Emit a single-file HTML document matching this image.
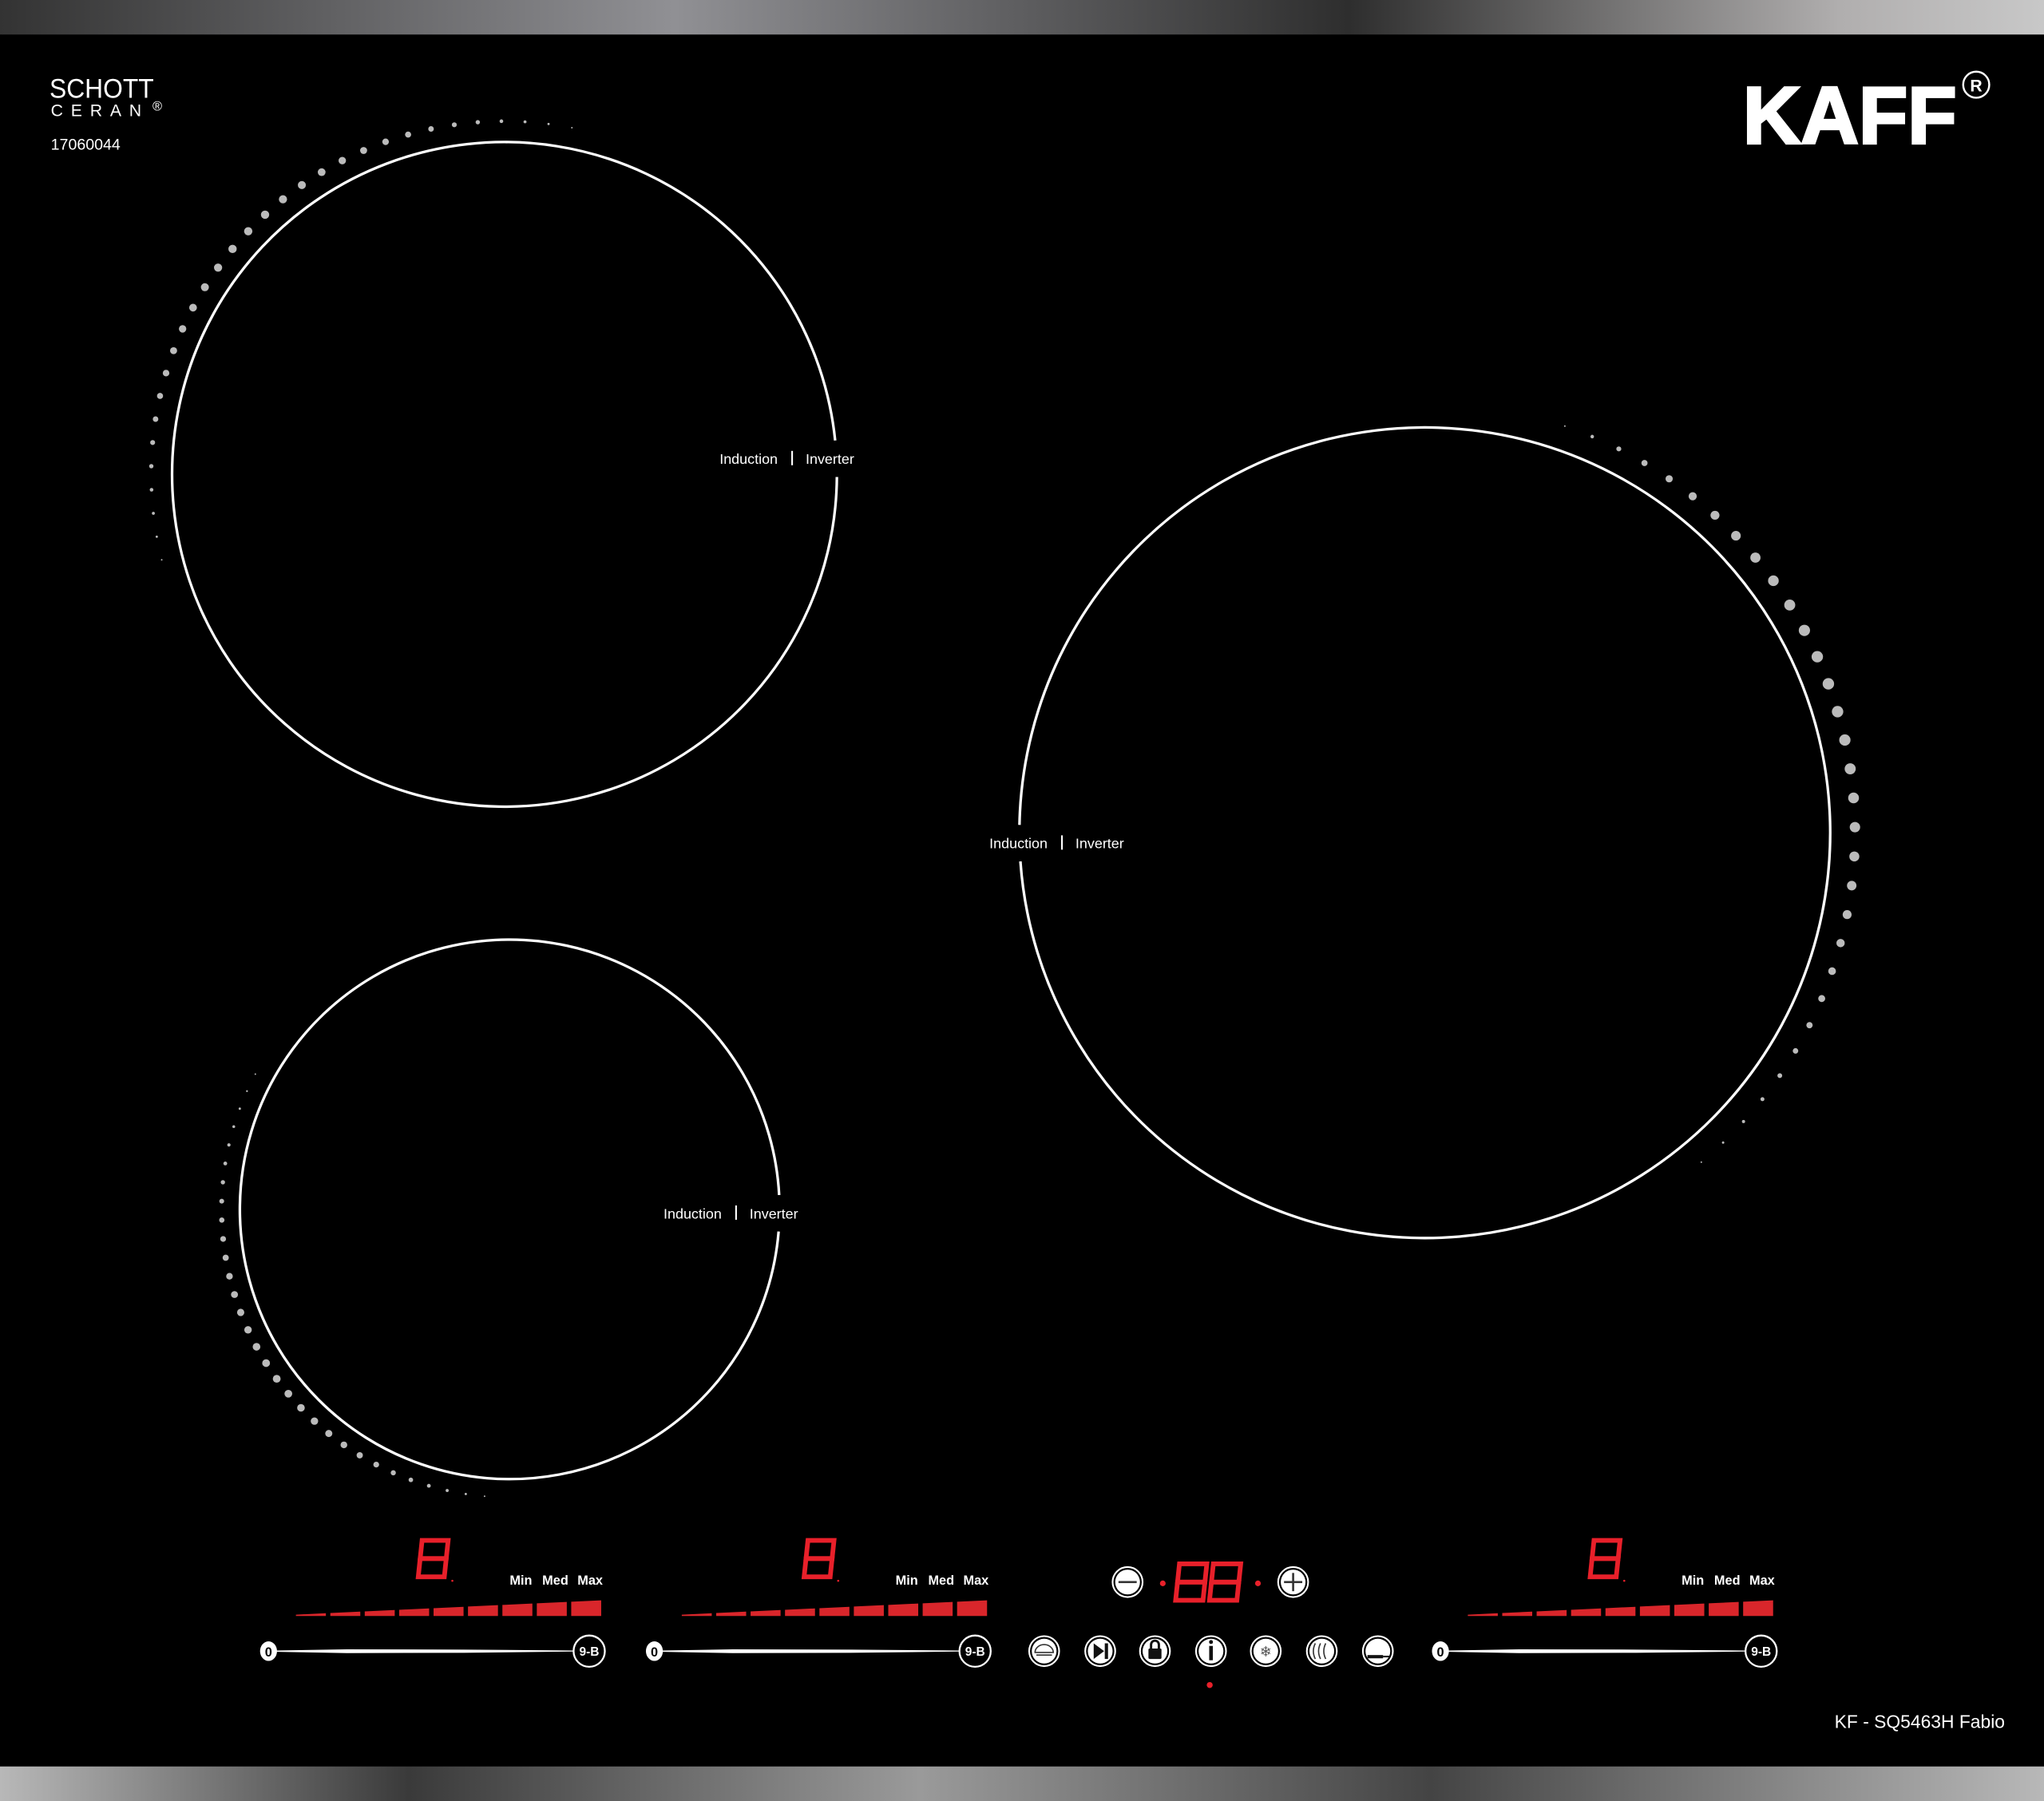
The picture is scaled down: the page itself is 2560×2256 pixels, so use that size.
<!DOCTYPE html>
<html><head><meta charset="utf-8"><style>
html,body{margin:0;padding:0;background:#000;}
svg{display:block;}
text{font-family:"Liberation Sans",sans-serif;}
</style></head><body>
<svg id="s" width="2560" height="2256" viewBox="0 0 1568 1382" preserveAspectRatio="none" xmlns="http://www.w3.org/2000/svg">
<defs>
<linearGradient id="gt" x1="0" x2="1" y1="0" y2="0">
<stop offset="0" stop-color="#333"/><stop offset="0.33" stop-color="#909094"/><stop offset="0.66" stop-color="#2e2e2e"/><stop offset="0.9" stop-color="#b0aeae"/><stop offset="1" stop-color="#c8c8c8"/>
</linearGradient>
<linearGradient id="gb" x1="0" x2="1" y1="0" y2="0">
<stop offset="0" stop-color="#b8b8b8"/><stop offset="0.2" stop-color="#3a3a3a"/><stop offset="0.45" stop-color="#9a9a9a"/><stop offset="0.7" stop-color="#444"/><stop offset="1" stop-color="#b8b8b8"/>
</linearGradient>
</defs>
<rect x="0" y="0" width="1568" height="1382" fill="#000"/>
<rect x="0" y="0" width="1568" height="26.5" fill="url(#gt)"/>
<rect x="0" y="1355.5" width="1568" height="26.5" fill="url(#gb)"/>

<text x="38" y="75" fill="#fff" font-size="21" textLength="80" lengthAdjust="spacingAndGlyphs">SCHOTT</text>
<text x="39" y="89" fill="#fff" font-size="13" letter-spacing="6">CERAN</text>
<text x="117" y="85" fill="#fff" font-size="10">®</text>
<text x="39" y="115" fill="#fff" font-size="12">17060044</text>
<text x="1337" y="110" fill="#fff" stroke="#fff" stroke-width="2" font-size="62" font-weight="bold" textLength="164" lengthAdjust="spacingAndGlyphs">KAFF</text>
<circle cx="1516" cy="65" r="10" fill="none" stroke="#fff" stroke-width="1.5"/>
<text x="1516" y="70" fill="#fff" font-size="13" font-weight="bold" text-anchor="middle">R</text>

<g id="zones" fill="none" stroke="#fff" stroke-width="2"></g>
<g id="dots" fill="#bbb"></g>
<g id="panel"></g>

<text x="1538" y="1326" fill="#fff" font-size="14" text-anchor="end">KF - SQ5463H Fabio</text>
</svg>
<script>
var NS="http://www.w3.org/2000/svg";
function el(p,t,a,txt){var e=document.createElementNS(NS,t);for(var k in a)e.setAttribute(k,a[k]);if(txt!=null)e.textContent=txt;p.appendChild(e);return e;}
var s=document.getElementById('s'),Z=document.getElementById('zones'),D=document.getElementById('dots'),P=document.getElementById('panel');
function zone(cx,cy,r,side,ly){
  var gy=14;
  var y1=ly-gy, y2=ly+gy;
  var dx1=Math.sqrt(r*r-(y1-cy)*(y1-cy)), dx2=Math.sqrt(r*r-(y2-cy)*(y2-cy));
  var d;
  if(side=='r'){d="M"+(cx+dx1)+" "+y1+" A"+r+" "+r+" 0 1 0 "+(cx+dx2)+" "+y2;}
  else{d="M"+(cx-dx1)+" "+y1+" A"+r+" "+r+" 0 1 1 "+(cx-dx2)+" "+y2;}
  el(Z,'path',{d:d});
}
zone(387,364,255,'r',352);
zone(1093,639,311,'l',647);
zone(391,928,207,'r',931);
function lbl(x,y){
  el(s,'text',{x:x,y:y+4,fill:'#fff','font-size':11},'Induction');
  el(s,'rect',{x:x+55,y:y-6,width:1.3,height:11,fill:'#fff'});
  el(s,'text',{x:x+66,y:y+4,fill:'#fff','font-size':11},'Inverter');
}
lbl(552,352);lbl(759,647);lbl(509,931);
function dots(cx,cy,r,a0,a1,n,maxr,peak){
  for(var i=0;i<n;i++){var t=i/(n-1);var a=(a0+(a1-a0)*t)*Math.PI/180;
    var f=Math.sin(Math.PI*Math.pow(t,peak));var rr=0.6+maxr*f;
    el(D,'circle',{cx:cx+r*Math.cos(a),cy:cy+r*Math.sin(a),r:rr});}
}
dots(387,364,271,-79,-194,31,2.6,1.0);
dots(1093,639,330,-71,50,32,3.8,0.8);
dots(391,928,221,208,95,31,2.4,1.2);
function eight(x,y,w,h){
  var g=el(P,'g',{transform:'translate('+x+','+y+') skewX(-6)',fill:'none',stroke:'#e8202a','stroke-width':3.6});
  el(g,'rect',{x:2,y:2,width:w-4,height:h/2-2});
  el(g,'rect',{x:2,y:h/2,width:w-4,height:h/2-2});
}
function zonePanel(ox){
  eight(ox+322,1180,24,32);
  el(P,'circle',{cx:ox+347,cy:1213,r:0.8,fill:'#e8202a'});
  el(P,'text',{x:ox+391,y:1216,fill:'#fff','font-size':10,'font-weight':'bold'},'Min');
  el(P,'text',{x:ox+416,y:1216,fill:'#fff','font-size':10,'font-weight':'bold'},'Med');
  el(P,'text',{x:ox+443,y:1216,fill:'#fff','font-size':10,'font-weight':'bold'},'Max');
  var x0=ox+227,x1=ox+461;
  function ty(x){return 1240-(1+(x-x0)/(x1-x0)*11);}
  for(var i=0;i<9;i++){var a=x0+i*26.4,b=a+23;
    el(P,'polygon',{points:a+','+1240+' '+b+',1240 '+b+','+ty(b)+' '+a+','+ty(a),fill:'#d9262b'});}
  var sx=ox+206,ex=ox+452;
  el(P,'polygon',{points:(sx+6)+',1266.5 '+(sx+60)+',1265.6 '+(sx+150)+',1265.8 '+(ex-12)+',1266.5 '+(ex-12)+',1267.3 '+(sx+150)+',1268.3 '+(sx+60)+',1268.5 '+(sx+6)+',1267.5',fill:'#fff'});
  el(P,'ellipse',{cx:sx,cy:1267,rx:6.5,ry:7.5,fill:'#fff'});
  el(P,'text',{x:sx,y:1271,fill:'#000','font-size':10,'text-anchor':'middle','font-weight':'bold'},'0');
  el(P,'circle',{cx:ex,cy:1267,r:12,fill:'#000',stroke:'#fff','stroke-width':1.4});
  el(P,'text',{x:ex,y:1270.5,fill:'#fff','font-size':9.5,'text-anchor':'middle','font-weight':'bold'},'9-B');
}
zonePanel(0);zonePanel(296);zonePanel(899);
function btn(cx,cy,fill){
  el(P,'circle',{cx:cx,cy:cy,r:11.5,fill:'#000',stroke:'#fff','stroke-width':1.3});
  el(P,'circle',{cx:cx,cy:cy,r:9.5,fill:fill||'#fff'});
}
btn(865,1214);el(P,'rect',{x:858,y:1213.2,width:14,height:1.6,fill:'#333'});
btn(992,1214);el(P,'rect',{x:985,y:1213.2,width:14,height:1.6,fill:'#333'});el(P,'rect',{x:991.2,y:1207,width:1.6,height:14,fill:'#333'});
eight(903,1198,25,32);eight(929,1198,25,32);
el(P,'circle',{cx:892,cy:1215,r:2.2,fill:'#e8202a'});
el(P,'circle',{cx:965,cy:1215,r:2.2,fill:'#e8202a'});
var ix=[801,844,886,929,971,1014,1057];
ix.forEach(function(x,i){btn(x,1267);});
el(P,'path',{d:'M794 1268 a7 6 0 0 1 14 0 z M795 1270 h12',fill:'none',stroke:'#333','stroke-width':1});
el(P,'polygon',{points:'839,1261 847,1267 839,1273',fill:'#111'});el(P,'rect',{x:847.5,y:1261,width:2.5,height:12,fill:'#111'});
el(P,'rect',{x:881,y:1265,width:10,height:8,rx:1,fill:'#111'});el(P,'path',{d:'M883 1265 v-3 a3 3 0 0 1 6 0 v3',fill:'none',stroke:'#111','stroke-width':1.8});
el(P,'circle',{cx:929,cy:1260,r:1.5,fill:'#111'});el(P,'rect',{x:927.6,y:1263,width:2.8,height:11,fill:'#111'});
el(P,'text',{x:971,y:1271,'font-size':11,'text-anchor':'middle',fill:'#555'},'❄');
el(P,'path',{d:'M1009 1273 q-3 -6 0 -12 M1013 1273 q-3 -6 0 -12 M1017 1273 q-3 -6 0 -12',fill:'none',stroke:'#333','stroke-width':1});
el(P,'rect',{x:1049,y:1270,width:12,height:2.5,fill:'#111'});el(P,'rect',{x:1061,y:1270.5,width:5,height:1.3,fill:'#111'});
el(P,'circle',{cx:928,cy:1293,r:2.3,fill:'#e8202a'});
</script>
</body></html>
